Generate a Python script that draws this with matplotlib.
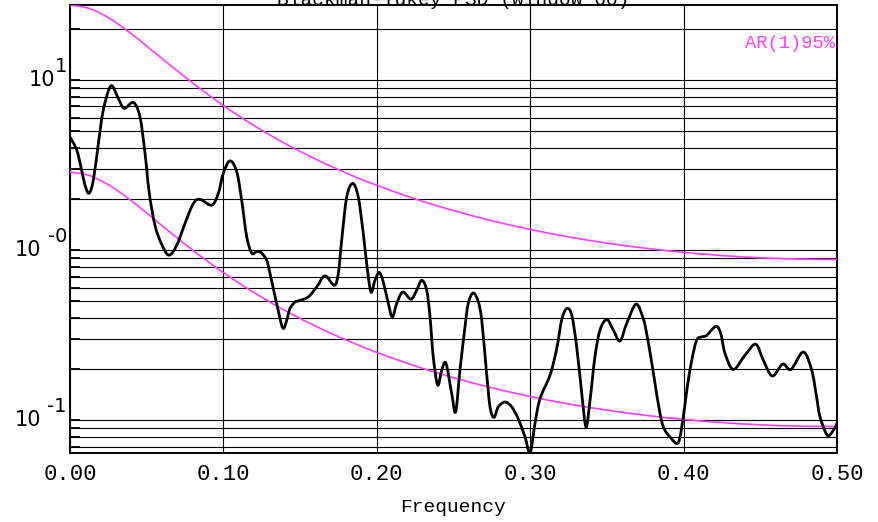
import matplotlib
matplotlib.use("Agg")
import matplotlib.pyplot as plt
import matplotlib.ticker as mticker
from matplotlib.path import Path
from matplotlib.patches import PathPatch
import numpy as np

# Blackman-Tukey spectrum estimate
freq = [0.0, 0.0044, 0.0076, 0.0098, 0.0124, 0.0152, 0.0185, 0.0217, 0.0267,
        0.0315, 0.0354, 0.0413, 0.0456, 0.0489, 0.0517, 0.0554, 0.0598, 0.0645,
        0.0696, 0.0750, 0.0804, 0.0848, 0.0924, 0.0967, 0.0999, 0.1043, 0.1087,
        0.1119, 0.1152, 0.1185, 0.1215, 0.1245, 0.1282, 0.1304, 0.1347, 0.1387,
        0.1413, 0.1434, 0.1467, 0.1488, 0.1553, 0.1608, 0.1662, 0.1723, 0.1749,
        0.1771, 0.1804, 0.1843, 0.1879, 0.1912, 0.1934, 0.1962, 0.1988, 0.2016,
        0.2042, 0.2075, 0.2101, 0.2130, 0.2169, 0.2223, 0.2260, 0.2293, 0.2325,
        0.2347, 0.2368, 0.2397, 0.2423, 0.2451, 0.2488, 0.2514, 0.2542, 0.2575,
        0.2596, 0.2629, 0.2662, 0.2684, 0.2712, 0.2738, 0.2764, 0.2792, 0.2836,
        0.2879, 0.2922, 0.2966, 0.2999, 0.3031, 0.3064, 0.3129, 0.3173, 0.3205,
        0.3238, 0.3271, 0.3303, 0.3336, 0.3364, 0.3390, 0.3422, 0.3455, 0.3499,
        0.3542, 0.3585, 0.3629, 0.3690, 0.3737, 0.3759, 0.3786, 0.3814, 0.3842,
        0.3868, 0.3911, 0.3965, 0.3998, 0.4024, 0.4053, 0.4085, 0.4118, 0.4151,
        0.4211, 0.4242, 0.4270, 0.4324, 0.4400, 0.4470, 0.4520, 0.4578, 0.4646,
        0.4700, 0.4780, 0.4835, 0.4867, 0.4889, 0.4937, 0.4976, 0.5000]
psd = [4.62, 3.88, 2.95, 2.41, 2.16, 2.58, 4.24, 6.66, 9.26,
       7.80, 6.82, 7.39, 6.08, 3.71, 2.16, 1.40, 1.08, 0.935,
       1.07, 1.44, 1.88, 1.99, 1.84, 2.16, 2.83, 3.35, 2.89,
       1.97, 1.20, 0.96, 0.98, 0.97, 0.873, 0.729, 0.486, 0.349,
       0.388, 0.454, 0.496, 0.503, 0.531, 0.608, 0.706, 0.622, 0.729,
       1.145, 2.06, 2.47, 2.06, 1.25, 0.835, 0.568, 0.666, 0.739,
       0.651, 0.486, 0.405, 0.486, 0.568, 0.515, 0.582, 0.666, 0.582,
       0.405, 0.236, 0.161, 0.197, 0.216, 0.144, 0.112, 0.197, 0.354,
       0.486, 0.561, 0.496, 0.388, 0.206, 0.120, 0.104, 0.120, 0.128,
       0.120, 0.102, 0.080, 0.0642, 0.0956, 0.134, 0.184, 0.264, 0.388,
       0.454, 0.415, 0.270, 0.144, 0.0913, 0.131, 0.236, 0.339, 0.391,
       0.339, 0.292, 0.371, 0.482, 0.396, 0.324, 0.236, 0.164, 0.115,
       0.0913, 0.0798, 0.0739, 0.105, 0.157, 0.225, 0.296, 0.309, 0.316,
       0.357, 0.324, 0.247, 0.199, 0.241, 0.280, 0.225, 0.182, 0.214,
       0.199, 0.252, 0.197, 0.137, 0.105, 0.0816, 0.0873, 0.0957]

# AR(1) red-noise background and its 95% level
ar_freq = [0.0, 0.0125, 0.025, 0.0375, 0.05, 0.0625, 0.075, 0.0875, 0.1,
           0.1125, 0.125, 0.1375, 0.15, 0.1625, 0.175, 0.1875, 0.2, 0.225,
           0.25, 0.275, 0.3, 0.325, 0.35, 0.375, 0.4, 0.425, 0.45, 0.475, 0.5]
ar1 = [2.880, 2.751, 2.426, 2.029, 1.652, 1.336, 1.085, 0.8896, 0.7385,
       0.6209, 0.5287, 0.4555, 0.3967, 0.3491, 0.3100, 0.2776, 0.2506, 0.2086,
       0.1780, 0.1552, 0.1380, 0.1248, 0.1147, 0.1070, 0.1012, 0.0969, 0.0940,
       0.0924, 0.0918]
ar1_95 = [27.65, 26.41, 23.29, 19.48, 15.86, 12.83, 10.42, 8.54, 7.09,
          5.96, 5.08, 4.37, 3.81, 3.35, 2.98, 2.66, 2.41, 2.00,
          1.71, 1.49, 1.325, 1.198, 1.101, 1.027, 0.972, 0.930, 0.902,
          0.887, 0.881]

x_ticks = [0.0, 0.1, 0.2, 0.3, 0.4, 0.5]
y_decades = [10.0, 1.0, 0.1]
y_exps = ["1", "-0", "-1"]

MAG = "#ff3dff"
MONO = "Liberation Mono"


def smooth_path(xs, ys):
    """Catmull-Rom curve through the points, built in log10(y)."""
    p = np.column_stack([xs, np.log10(ys)])
    q = np.vstack([p[0], p, p[-1]])
    verts = [p[0]]
    codes = [Path.MOVETO]
    for i in range(len(p) - 1):
        c1 = q[i + 1] + (q[i + 2] - q[i]) / 6
        c2 = q[i + 2] - (q[i + 3] - q[i + 1]) / 6
        verts += [c1, c2, q[i + 2]]
        codes += [Path.CURVE4] * 3
    v = np.array(verts)
    v[:, 1] = 10 ** v[:, 1]
    return Path(v, codes)


fig = plt.figure(figsize=(8.79, 5.22), dpi=100)
ax = fig.add_axes([70 / 879, 1 - 453 / 522, 767 / 879, 448 / 522])

ax.set_yscale("log")
ax.set_xlim(0, 0.5)
ax.set_ylim(min(psd), max(ar1_95))

for xs, ys, col, lw in [(ar_freq, ar1_95, MAG, 1.2), (ar_freq, ar1, MAG, 1.2),
                        (freq, psd, "black", 2.0)]:
    ax.add_patch(PathPatch(smooth_path(xs, ys), fill=False, edgecolor=col,
                           lw=lw, capstyle="round", joinstyle="round",
                           zorder=3))

ax.yaxis.set_major_locator(mticker.LogLocator(base=10))
ax.yaxis.set_minor_locator(mticker.LogLocator(base=10, subs=np.arange(2, 10)))
ax.yaxis.set_major_formatter(mticker.NullFormatter())
ax.yaxis.set_minor_formatter(mticker.NullFormatter())
ax.grid(True, which="both", axis="y", color="black", lw=0.8)
ax.grid(True, which="major", axis="x", color="black", lw=0.8)
ax.tick_params(axis="y", which="both", direction="in", length=7, width=1.3)

ax.set_xticks(x_ticks)
ax.set_xticklabels([f"{t:.2f}" for t in x_ticks], family=MONO, fontsize=16)
ax.tick_params(axis="x", length=0, pad=8)

for s in ax.spines.values():
    s.set_linewidth(1.4)

# y labels drawn as "10" with a full-size raised exponent
ytr = ax.get_yaxis_transform()
for val, e in zip(y_decades, y_exps):
    w = 12 if len(e) == 1 else 26
    ax.annotate(e, xy=(0, val), xycoords=ytr, xytext=(-3, 4),
                textcoords="offset pixels", ha="right", va="bottom",
                fontsize=14, family="DejaVu Sans")
    ax.annotate("10", xy=(0, val), xycoords=ytr, xytext=(-3 - w, 0),
                textcoords="offset pixels", ha="right", va="center",
                fontsize=15, family="DejaVu Sans")

ax.text(0.997, 0.915, "AR(1)95%", transform=ax.transAxes, ha="right",
        va="center", color=MAG, family=MONO, fontsize=13.5)

fig.text(453 / 879, 1 - 5 / 522, "Blackman-Tukey PSD (window 60)",
         ha="center", va="baseline", family=MONO, fontsize=14)
fig.text(453 / 879, 1 - 507 / 522, "Frequency", ha="center", va="center",
         family=MONO, fontsize=14)

fig.savefig("out.png", dpi=100)
